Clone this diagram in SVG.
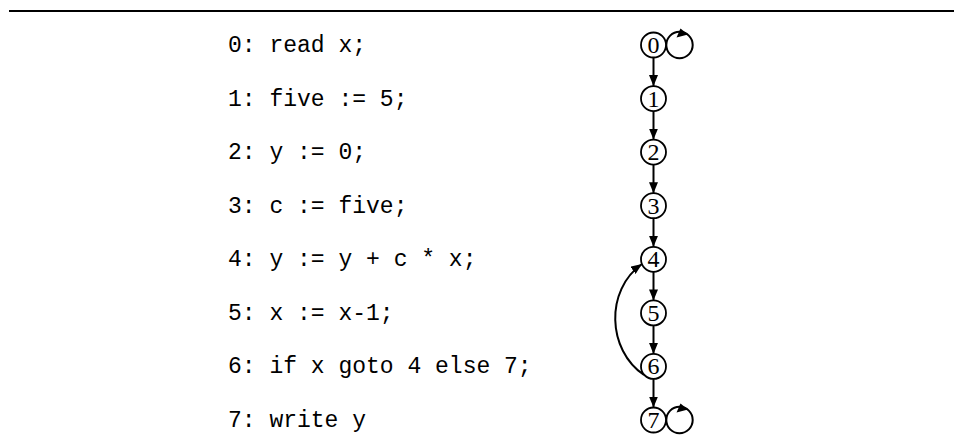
<svg xmlns="http://www.w3.org/2000/svg" width="954" height="448" viewBox="0 0 954 448">
<style>
.code{font-family:"Liberation Mono","DejaVu Sans Mono",monospace;font-size:23px;fill:#000}
.node circle{fill:#fff;stroke:#000;stroke-width:1.8}
.node text{font-family:"Liberation Serif","DejaVu Serif",serif;font-size:24px;text-anchor:middle;fill:#000}
.edge{fill:none;stroke:#000;stroke-width:2}
.head{fill:#000;stroke:none}
</style>
<defs>
<marker id="ah" markerWidth="11" markerHeight="9" refX="11" refY="4.5" orient="auto" markerUnits="userSpaceOnUse">
<path d="M0,0 L11,4.5 L0,9 Z" fill="#000"/>
</marker>
</defs>
<rect width="954" height="448" fill="#fff"/>
<line x1="9" y1="11" x2="954" y2="11" stroke="#000" stroke-width="2.2"/>
<g id="code">
<text class="code" x="228" y="52">0: read x;</text>
<text class="code" x="228" y="105.6">1: five := 5;</text>
<text class="code" x="228" y="159.1">2: y := 0;</text>
<text class="code" x="228" y="212.7">3: c := five;</text>
<text class="code" x="228" y="266.3">4: y := y + c * x;</text>
<text class="code" x="228" y="319.9">5: x := x-1;</text>
<text class="code" x="228" y="373.4">6: if x goto 4 else 7;</text>
<text class="code" x="228" y="427">7: write y</text>
</g>
<g id="connectors">
<line class="edge" x1="653.5" y1="57.5" x2="653.5" y2="86.1" marker-end="url(#ah)"/>
<line class="edge" x1="653.5" y1="111.1" x2="653.5" y2="139.6" marker-end="url(#ah)"/>
<line class="edge" x1="653.5" y1="164.6" x2="653.5" y2="193.2" marker-end="url(#ah)"/>
<line class="edge" x1="653.5" y1="218.2" x2="653.5" y2="246.8" marker-end="url(#ah)"/>
<line class="edge" x1="653.5" y1="271.8" x2="653.5" y2="300.4" marker-end="url(#ah)"/>
<line class="edge" x1="653.5" y1="325.4" x2="653.5" y2="353.9" marker-end="url(#ah)"/>
<line class="edge" x1="653.5" y1="378.9" x2="653.5" y2="407.5" marker-end="url(#ah)"/>
<path class="edge" d="M644,375 C607,350 605,290 642,264" marker-end="url(#ah)"/>
<circle class="edge" cx="679.5" cy="45" r="13.2"/>
<polygon class="head" points="676.5,37.5 680.5,28.5 688,34.5"/>
<circle class="edge" cx="679.5" cy="420" r="13.2"/>
<polygon class="head" points="676.5,412.5 680.5,403.5 688,409.5"/>
</g>
<g id="n0" class="node"><circle cx="653.5" cy="45" r="12.5"/><text x="653.5" y="53">0</text></g>
<g id="n1" class="node"><circle cx="653.5" cy="98.6" r="12.5"/><text x="653.5" y="106.6">1</text></g>
<g id="n2" class="node"><circle cx="653.5" cy="152.1" r="12.5"/><text x="653.5" y="160.1">2</text></g>
<g id="n3" class="node"><circle cx="653.5" cy="205.7" r="12.5"/><text x="653.5" y="213.7">3</text></g>
<g id="n4" class="node"><circle cx="653.5" cy="259.3" r="12.5"/><text x="653.5" y="267.3">4</text></g>
<g id="n5" class="node"><circle cx="653.5" cy="312.9" r="12.5"/><text x="653.5" y="320.9">5</text></g>
<g id="n6" class="node"><circle cx="653.5" cy="366.4" r="12.5"/><text x="653.5" y="374.4">6</text></g>
<g id="n7" class="node"><circle cx="653.5" cy="420" r="12.5"/><text x="653.5" y="428">7</text></g>
</svg>
